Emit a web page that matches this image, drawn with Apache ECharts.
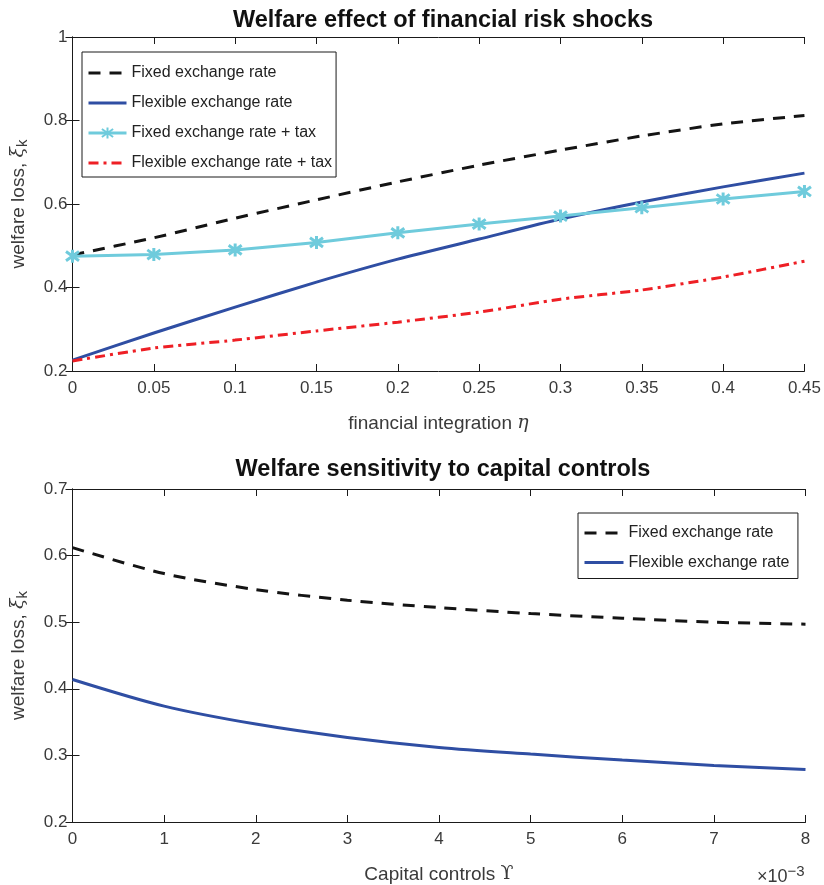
<!DOCTYPE html>
<html><head><meta charset="utf-8">
<script src="https://cdn.jsdelivr.net/npm/echarts@6/dist/echarts.min.js"></script>
<style>html,body{margin:0;padding:0;background:#fff}#c{width:824px;height:885px}</style>
</head><body><div id="c"></div>
<script>
// ---- data ----
const etaValues = [0, 0.05, 0.1, 0.15, 0.2, 0.25, 0.3, 0.35, 0.4, 0.45];
const fixedTop = [0.478, 0.519, 0.566, 0.610, 0.653, 0.693, 0.729, 0.763, 0.792, 0.812];
const flexTop = [0.226, 0.291, 0.353, 0.413, 0.468, 0.516, 0.564, 0.605, 0.641, 0.674];
const fixedTaxTop = [0.475, 0.479, 0.490, 0.508, 0.531, 0.552, 0.571, 0.591, 0.612, 0.630];
const flexTaxTop = [0.224, 0.255, 0.274, 0.296, 0.317, 0.341, 0.372, 0.394, 0.425, 0.463];

const upsilonValues = [0, 1, 2, 3, 4, 5, 6, 7, 8]; // x 1e-3
const fixedBottom = [0.612, 0.573, 0.549, 0.533, 0.522, 0.513, 0.506, 0.500, 0.497];
const flexBottom = [0.414, 0.374, 0.347, 0.327, 0.312, 0.302, 0.293, 0.285, 0.279];

const names = ['Fixed exchange rate', 'Flexible exchange rate', 'Fixed exchange rate + tax', 'Flexible exchange rate + tax'];
const topTicksX = [0, 0.45, 0.05];
const topTicksY = [0.2, 1, 0.2];
const botTicksX = [0, 8, 1];
const botTicksY = [0.2, 0.7, 0.1];

// ---- styles ----
const C_BLACK = '#141414', C_BLUE = '#2f4ea3', C_CYAN = '#6fcbdc', C_RED = '#ee1f25';
const FONT = 'Liberation Sans, Arial, sans-serif';
const GREY = '#3a3a3a';
const labelStyle = {color: GREY, fontSize: 17, fontFamily: FONT};
const lineAx = {show: true, lineStyle: {color: '#1a1a1a', width: 1}};
const tickSty = {show: true, inside: true, length: 7, lineStyle: {color: '#1a1a1a'}};
const zip = (xs, ys) => xs.map((x, i) => [x, ys[i]]);
const fmt = v => String(Math.round(v * 1000) / 1000);

const chart = echarts.init(document.getElementById('c'), null, {renderer: 'canvas'});

const gRich = {
  g: {fontFamily: 'DejaVu Serif', fontStyle: 'italic', fontSize: 19, color: GREY},
  u: {fontFamily: 'DejaVu Serif', fontSize: 19, color: GREY}
};
function xAxes(gi, t, nameText) {
  return [
    {type: 'value', gridIndex: gi, position: 'bottom', min: t[0], max: t[1], interval: t[2],
     axisLine: lineAx, axisTick: tickSty,
     splitLine: {show: false}, axisLabel: Object.assign({margin: 9, formatter: fmt}, labelStyle),
     name: nameText, nameLocation: 'middle', nameGap: 43,
     nameTextStyle: {color: GREY, fontSize: 19, fontFamily: FONT, rich: gRich}},
    {type: 'value', gridIndex: gi, position: 'top', min: t[0], max: t[1], interval: t[2],
     axisLine: lineAx, axisTick: tickSty, splitLine: {show: false}, axisLabel: {show: false}}
  ];
}
const yRich = {
  g: {fontFamily: 'DejaVu Serif', fontStyle: 'italic', fontSize: 19, color: GREY},
  s: {fontFamily: FONT, fontSize: 15, color: GREY, padding: [9, 0, 0, 0]}
};
function yAxes(gi, t) {
  return [
    {type: 'value', gridIndex: gi, position: 'left', min: t[0], max: t[1], interval: t[2],
     axisLine: lineAx, axisTick: tickSty,
     splitLine: {show: false}, axisLabel: Object.assign({margin: 5, formatter: fmt}, labelStyle),
     name: 'welfare loss, {g|ξ}{s|k}', nameLocation: 'middle', nameGap: 42, nameRotate: 90,
     nameTextStyle: {color: GREY, fontSize: 19, fontFamily: FONT, rich: yRich}},
    {type: 'value', gridIndex: gi, position: 'right', min: t[0], max: t[1], interval: t[2],
     axisLine: lineAx, axisTick: tickSty, splitLine: {show: false}, axisLabel: {show: false}}
  ];
}

const starPath = 'path://M0,-7L0,7M-5,-5L5,5M-5,5L5,-5';
const noSym = {opacity: 0};

const option = {
  animation: false,
  backgroundColor: '#fff',
  title: [
    {text: 'Welfare effect of financial risk shocks', left: 438, top: 4, textAlign: 'center',
     textStyle: {fontSize: 23.5, fontWeight: 'bold', color: '#111', fontFamily: FONT}},
    {text: 'Welfare sensitivity to capital controls', left: 438, top: 453, textAlign: 'center',
     textStyle: {fontSize: 23.5, fontWeight: 'bold', color: '#111', fontFamily: FONT}}
  ],
  grid: [
    {left: 72.5, top: 37, width: 733, height: 334},
    {left: 72.5, top: 489, width: 733, height: 333}
  ],
  xAxis: [].concat(xAxes(0, topTicksX, 'financial integration {g|η}'),
                   xAxes(1, botTicksX, 'Capital controls {u|ϒ}')),
  yAxis: [].concat(yAxes(0, topTicksY), yAxes(1, botTicksY)),
  legend: [
    {orient: 'vertical', left: 82, top: 52,
     data: [{name: names[0], itemStyle: noSym}, {name: names[1], itemStyle: noSym},
            {name: names[2]}, {name: names[3], itemStyle: noSym}],
     backgroundColor: '#fff', borderColor: '#1a1a1a', borderWidth: 1, padding: [13, 4, 6, 5],
     itemWidth: 38, itemHeight: 14, itemGap: 14, lineStyle: {width: 3},
     textStyle: {fontSize: 16, color: '#222', fontFamily: FONT}},
    {orient: 'vertical', left: 578, top: 513,
     data: [{name: names[0] + ' ', itemStyle: noSym}, {name: names[1] + ' ', itemStyle: noSym}],
     backgroundColor: '#fff', borderColor: '#1a1a1a', borderWidth: 1, padding: [12, 4, 8, 5],
     itemWidth: 39, itemHeight: 14, itemGap: 13.5, lineStyle: {width: 3},
     textStyle: {fontSize: 16, color: '#222', fontFamily: FONT}}
  ],
  series: [
    {name: names[0], type: 'line', xAxisIndex: 0, yAxisIndex: 0, data: zip(etaValues, fixedTop),
     symbol: 'none', smooth: 0.2, color: C_BLACK,
     lineStyle: {color: C_BLACK, width: 3, type: [12, 9]}},
    {name: names[1], type: 'line', xAxisIndex: 0, yAxisIndex: 0, data: zip(etaValues, flexTop),
     symbol: 'none', smooth: 0.2, color: C_BLUE, lineStyle: {color: C_BLUE, width: 3}},
    {name: names[2], type: 'line', xAxisIndex: 0, yAxisIndex: 0, data: zip(etaValues, fixedTaxTop),
     symbol: starPath, symbolSize: 13, showSymbol: true, color: C_CYAN,
     itemStyle: {color: C_CYAN, borderColor: C_CYAN, borderWidth: 3},
     lineStyle: {color: C_CYAN, width: 3}},
    {name: names[3], type: 'line', xAxisIndex: 0, yAxisIndex: 0, data: zip(etaValues, flexTaxTop),
     symbol: 'none', smooth: 0.2, color: C_RED, lineStyle: {color: C_RED, width: 3, type: [10, 5, 3, 5]}},
    {name: names[0] + ' ', type: 'line', xAxisIndex: 2, yAxisIndex: 2, data: zip(upsilonValues, fixedBottom),
     symbol: 'none', smooth: 0.3, color: C_BLACK, lineStyle: {color: C_BLACK, width: 3, type: [12, 9]}},
    {name: names[1] + ' ', type: 'line', xAxisIndex: 2, yAxisIndex: 2, data: zip(upsilonValues, flexBottom),
     symbol: 'none', smooth: 0.3, color: C_BLUE, lineStyle: {color: C_BLUE, width: 3}}
  ],
  graphic: [
    {type: 'text', left: 757, top: 864,
     style: {text: '×10{s|−3}', fill: GREY, font: '18px ' + FONT,
             rich: {s: {fontSize: 15, fontFamily: FONT, fill: GREY, padding: [0, 0, 12, 0]}}}}
  ]
};
chart.setOption(option);
</script></body></html>
